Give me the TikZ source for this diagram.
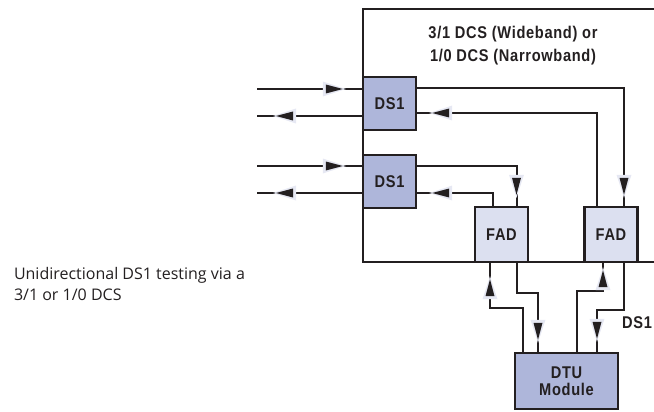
\documentclass[tikz,border=0pt]{standalone}
\usepackage{fontspec}
\setmainfont{Open Sans}
\newfontfamily\cnd[FakeStretch=0.86,LetterSpace=4]{Liberation Sans}
\usetikzlibrary{decorations.markings}
\definecolor{boxdark}{RGB}{174,182,218}
\definecolor{boxlight}{RGB}{220,224,240}
\definecolor{halo}{RGB}{230,232,243}
\definecolor{ink}{RGB}{35,31,32}

\begin{document}
\begin{tikzpicture}[x=1pt, y=-1pt, line width=2pt, draw=ink,
	blk/.style={draw=ink, line width=2.4pt, inner sep=0pt, text=ink, align=center,
		font=\cnd\bfseries\fontsize{17}{17}\selectfont},
	dsbox/.style={blk, fill=boxdark, minimum width=53pt, minimum height=53pt},
	fadbox/.style={blk, fill=boxlight, minimum width=53pt, minimum height=55pt},
	flow/.style={postaction={decorate, decoration={markings, mark=at position #1 with {
		\fill[halo] (-11,-7.5) -- (12,0) -- (-11,7.5) -- cycle;
		\fill[ink] (-8,-4.5) -- (9,0) -- (-8,4.5) -- cycle;}}}}]
	\clip (0,0) rectangle (654,412);
	% the cross-connect frame
	\draw[line width=2.4pt] (700,9) -- (363,9) -- (363,262) -- (700,262);
	\node[font=\cnd\bfseries\fontsize{17}{23}\selectfont, text=ink, align=center] (dcs) at (513,46) {3/1 DCS (Wideband) or\\1/0 DCS (Narrowband)};
	% ports
	\node[dsbox] (ds1a) at (389.5,103.5) {DS1};
	\node[dsbox] (ds1b) at (389.5,181.5) {DS1};
	\node[fadbox] (fada) at (501.5,234.5) {FAD};
	\node[fadbox] (fadb) at (611,234.5) {FAD};
	\node[dsbox, minimum width=103pt, minimum height=56pt] (dtu) at (566.5,381) {DTU\\Module};
	% free line ends
	\coordinate (i1) at (257,89);
	\coordinate (o1) at (257,116);
	\coordinate (i2) at (257,166);
	\coordinate (o2) at (257,193);
	\draw[flow=-28pt] (i1) -- (i1 -| ds1a.west);
	\draw[flow=-28pt] (o1 -| ds1a.west) -- (o1);
	\draw[flow=-28pt] (i2) -- (i2 -| ds1b.west);
	\draw[flow=-28pt] (o2 -| ds1b.west) -- (o2);
	% through the DCS to the FADs
	\draw[flow=-20pt] ([yshift=15.5pt]ds1a.east) -| ([xshift=13pt]fadb.north);
	\draw[flow=-24pt] ([xshift=-14pt]fadb.north) |- ([yshift=-9.5pt]ds1a.east);
	\draw[flow=-20pt] ([yshift=15.5pt]ds1b.east) -| ([xshift=15pt]fada.north);
	\draw[flow=-24pt] ([xshift=-8.5pt]fada.north) |- ([yshift=-11.5pt]ds1b.east);
	% FADs to the DTU
	\draw[flow=-25pt] ([xshift=-43.5pt]dtu.north) -- ++(0,-44) -| ([xshift=-11.5pt]fada.south);
	\draw[flow=-21pt] ([xshift=15pt]fada.south) -- ++(0,30) -| ([xshift=-28.5pt]dtu.north);
	\draw[flow=-16pt] ([xshift=10.5pt]dtu.north) -- ++(0,-61) -| ([xshift=-8pt]fadb.south);
	\draw[flow=-22pt] ([xshift=13pt]fadb.south) -- ++(0,47) -| ([xshift=30.5pt]dtu.north);
	\node[anchor=east, inner sep=1pt, font=\cnd\bfseries\fontsize{17}{17}\selectfont, text=ink] (lbl) at (654,323) {DS1};
	% caption
	\node[anchor=north west, align=left, inner sep=0pt, text=ink, font=\fontsize{16}{21}\selectfont] (note) at (13,266) {Unidirectional DS1 testing via a\\3/1 or 1/0 DCS};
\end{tikzpicture}
\end{document}
